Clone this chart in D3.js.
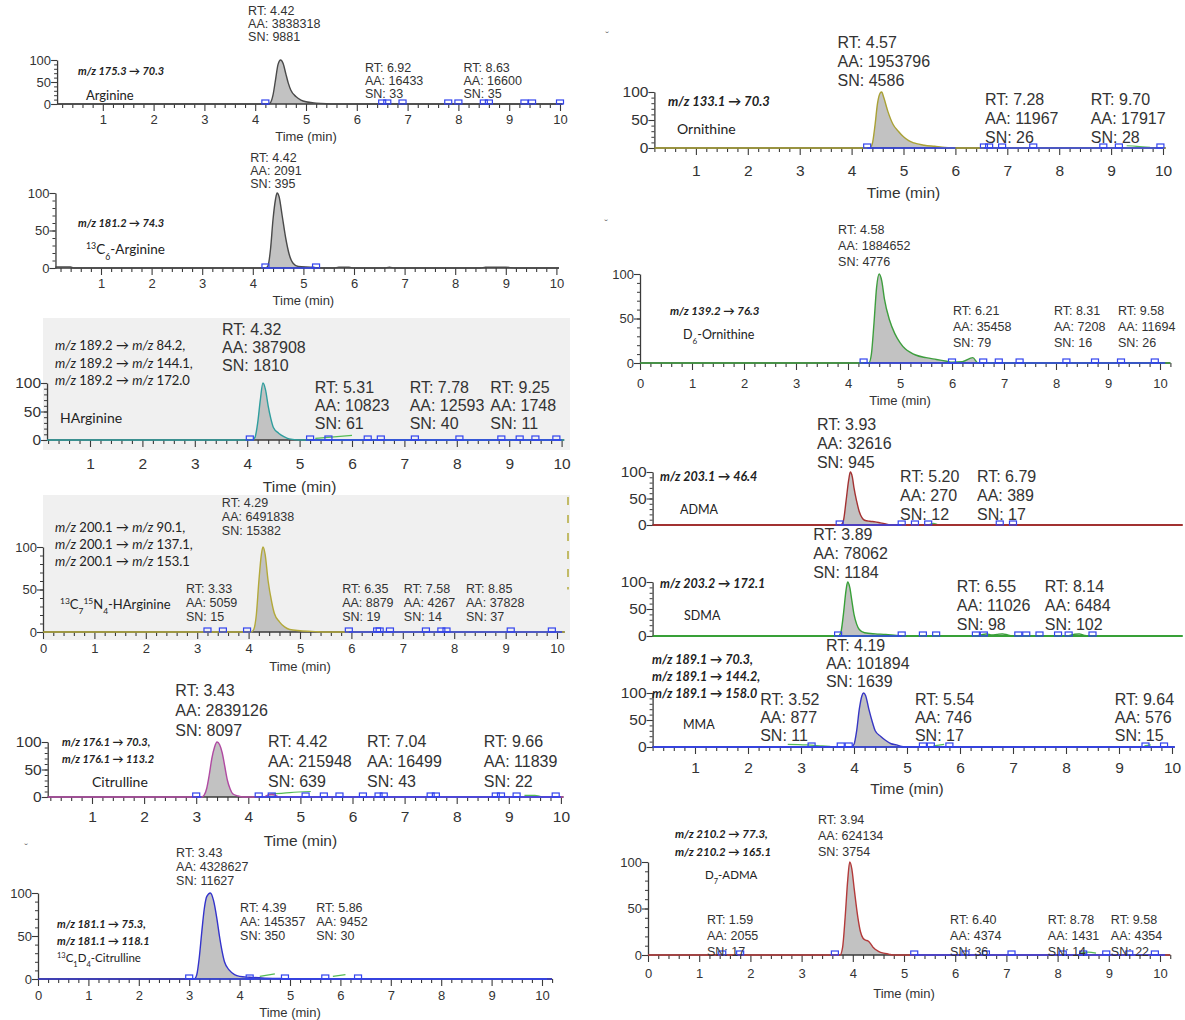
<!DOCTYPE html>
<html><head><meta charset="utf-8">
<script src="https://cdn.jsdelivr.net/npm/d3@7"></script>
<style>body{margin:0;background:#fff}svg{display:block}</style>
</head><body>
<svg id="c" width="1185" height="1020"></svg>
<script>
// ================= DATA =================
const names = [
  [["Arginine"]],
  [["13","sup"],["C"],["6","sub"],["-Arginine"]],
  [["HArginine"]],
  [["13","sup"],["C"],["7","sub"],["15","sup"],["N"],["4","sub"],["-HArginine"]],
  [["Citrulline"]],
  [["13","sup"],["C"],["1","sub"],["D"],["4","sub"],["-Citrulline"]],
  [["Ornithine"]],
  [["D"],["6","sub"],["-Ornithine"]],
  [["ADMA"]],
  [["SDMA"]],
  [["MMA"]],
  [["D"],["7","sub"],["-ADMA"]]
];
const transitions = [
  ["m/z 175.3 → 70.3"],
  ["m/z 181.2 → 74.3"],
  ["m/z 189.2 → m/z 84.2,","m/z 189.2 → m/z 144.1,","m/z 189.2 → m/z 172.0"],
  ["m/z 200.1 → m/z 90.1,","m/z 200.1 → m/z 137.1,","m/z 200.1 → m/z 153.1"],
  ["m/z 176.1 → 70.3,","m/z 176.1 → 113.2"],
  ["m/z 181.1 → 75.3,","m/z 181.1 → 118.1"],
  ["m/z 133.1 → 70.3"],
  ["m/z 139.2 → 76.3"],
  ["m/z 203.1 → 46.4"],
  ["m/z 203.2 → 172.1"],
  ["m/z 189.1 → 70.3,","m/z 189.1 → 144.2,","m/z 189.1 → 158.0"],
  ["m/z 210.2 → 77.3,","m/z 210.2 → 165.1"]
];
// peak annotations: [RT, AA, SN]
const peaks = [
  [["4.42","3838318","9881"],["6.92","16433","33"],["8.63","16600","35"]],
  [["4.42","2091","395"]],
  [["4.32","387908","1810"],["5.31","10823","61"],["7.78","12593","40"],["9.25","1748","11"]],
  [["4.29","6491838","15382"],["3.33","5059","15"],["6.35","8879","19"],["7.58","4267","14"],["8.85","37828","37"]],
  [["3.43","2839126","8097"],["4.42","215948","639"],["7.04","16499","43"],["9.66","11839","22"]],
  [["3.43","4328627","11627"],["4.39","145357","350"],["5.86","9452","30"]],
  [["4.57","1953796","4586"],["7.28","11967","26"],["9.70","17917","28"]],
  [["4.58","1884652","4776"],["6.21","35458","79"],["8.31","7208","16"],["9.58","11694","26"]],
  [["3.93","32616","945"],["5.20","270","12"],["6.79","389","17"]],
  [["3.89","78062","1184"],["6.55","11026","98"],["8.14","6484","102"]],
  [["4.19","101894","1639"],["3.52","877","11"],["5.54","746","17"],["9.64","576","15"]],
  [["3.94","624134","3754"],["1.59","2055","17"],["6.40","4374","36"],["8.78","1431","14"],["9.58","4354","22"]]
];
// chromatogram traces: [time (min), relative abundance (%)]
const traces = [
  [[0.1,0],[4.25,0],[4.3,3],[4.35,20],[4.4,55],[4.45,90],[4.5,100],[4.55,92],[4.6,70],[4.65,48],[4.7,32],[4.8,17],[4.9,9],[5.0,5],[5.2,2],[5.4,0.5],[5.6,0],[10.05,0]],
  [[0.1,1.5],[0.4,1.5],[0.45,0],[4.25,0],[4.3,3],[4.35,25],[4.4,65],[4.45,92],[4.48,100],[4.52,95],[4.58,70],[4.65,40],[4.72,18],[4.8,6],[4.9,2],[5.2,1],[5.3,0],[5.6,0],[5.7,1],[5.9,1],[6.0,0],[6.6,0],[6.7,1],[6.8,0],[8.5,0],[8.6,1],[9.0,1],[9.2,0],[10.05,0]],
  [[0.18,0],[4.1,0],[4.15,5],[4.2,30],[4.25,70],[4.3,100],[4.35,88],[4.4,60],[4.45,38],[4.5,22],[4.6,12],[4.7,6],[4.8,2],[5.0,0],[10.05,0]],
  [[0,0],[4.05,0],[4.1,3],[4.15,20],[4.2,60],[4.25,92],[4.28,100],[4.32,92],[4.38,60],[4.45,35],[4.5,22],[4.6,12],[4.7,6],[4.8,3],[5.0,1.5],[5.3,0.5],[5.5,0],[10.15,0]],
  [[0.15,0],[3.1,0],[3.15,3],[3.2,15],[3.25,40],[3.3,70],[3.35,90],[3.4,100],[3.45,95],[3.5,80],[3.55,55],[3.6,30],[3.65,15],[3.7,6],[3.8,2],[3.9,0],[4.3,0],[4.38,4],[4.45,5],[4.52,3],[4.6,0],[10.05,0]],
  [[0,0],[3.1,0],[3.15,5],[3.2,25],[3.25,55],[3.3,82],[3.35,96],[3.42,100],[3.48,92],[3.55,70],[3.6,50],[3.65,33],[3.7,20],[3.8,10],[3.9,5],[4.0,3],[4.2,2],[4.5,1],[4.8,0.5],[5.0,0],[10.2,0]],
  [[0.2,0],[4.35,0],[4.4,8],[4.45,40],[4.5,80],[4.55,98],[4.58,100],[4.62,90],[4.7,65],[4.8,42],[4.9,30],[5.0,20],[5.1,13],[5.2,9],[5.4,5],[5.6,3],[5.8,1],[6.0,0],[10.05,0]],
  [[0,0],[4.4,0],[4.45,10],[4.5,45],[4.55,85],[4.6,100],[4.65,92],[4.7,72],[4.8,48],[4.9,33],[5.0,23],[5.1,16],[5.2,12],[5.3,9],[5.5,6],[5.7,4],[5.9,2],[6.0,1],[6.2,1.5],[6.4,6],[6.5,0],[10.2,0]],
  [[0.2,0],[3.75,0],[3.8,8],[3.85,45],[3.9,85],[3.93,100],[3.97,90],[4.0,70],[4.05,45],[4.1,25],[4.15,14],[4.2,9],[4.3,7],[4.4,6],[4.5,4],[4.6,2],[4.7,0],[10.2,0]],
  [[0.2,0],[3.7,0],[3.75,6],[3.8,40],[3.85,85],[3.88,100],[3.92,90],[3.96,65],[4.0,40],[4.05,22],[4.1,12],[4.2,6],[4.4,4],[4.6,3],[4.8,1],[5.0,0],[6.3,0],[6.4,2],[6.5,4],[6.6,2],[6.7,3],[6.8,4],[6.9,2],[7.0,0],[8.0,0],[8.15,3],[8.25,4],[8.35,1],[8.5,0],[10.2,0]],
  [[0.2,0],[3.95,0],[4.0,5],[4.05,30],[4.1,70],[4.15,95],[4.18,100],[4.22,95],[4.28,70],[4.35,45],[4.4,30],[4.5,20],[4.6,12],[4.7,6],[4.8,4],[4.9,1],[5.0,0],[10.05,0]],
  [[0,0],[3.75,0],[3.8,8],[3.85,40],[3.9,80],[3.94,100],[3.98,93],[4.03,70],[4.1,40],[4.15,25],[4.2,18],[4.25,16],[4.3,15],[4.35,12],[4.4,8],[4.5,4],[4.6,2],[4.7,1],[4.8,0],[10.2,0]]
];
// peak boundary markers (time, min)
const markers = [
  [4.2,6.5,6.6,6.9,7.8,8.0,8.5,8.6,9.3,9.45,10.0],
  [4.25,5.25],
  [4.05,5.2,5.55,6.3,6.55,7.2,8.05,8.85,9.2,9.5,9.9],
  [3.2,3.5,3.97,5.95,6.5,6.55,6.75,7.45,7.75,7.85,9.1,9.9],
  [3.0,4.2,4.45,5.1,5.45,5.75,6.2,6.5,6.6,7.5,7.6,8.75,8.85,9.15,9.9],
  [3.0,4.2,4.9,5.7,6.35],
  [4.3,6.55,6.65,6.9,7.5,8.85,9.15,9.95],
  [4.3,6.0,6.6,6.9,7.3,8.2,8.75,9.25,9.9],
  [3.73,4.9,5.15,5.4,6.75,7.0],
  [3.7,4.9,5.3,5.55,6.3,6.45,7.1,7.25,7.5,7.85,8.05,8.5],
  [3.2,3.75,3.9,5.3,5.45,5.8,9.5,9.85],
  [1.45,1.8,3.65,5.2,6.2,6.6,7.1,8.1,8.5,8.95,9.4,9.9]
];
// blue integration baselines [from, to] (min)
const baselines = [
  [[4.2,4.25]],
  [[4.25,5.25]],
  [[5.2,10.0]],
  [[5.95,10.1]],
  [[3.0,3.1],[4.2,10.0]],
  [[3.0,10.1]],
  [[4.3,6.0],[6.55,10.0]],
  [[4.3,10.1]],
  [[3.73,4.9]],
  [[3.7,4.9]],
  [[0.2,10.05]],
  [[5.2,10.1]]
];
// secondary (green) noise traces
const noise = [
  [],
  [],
  [[[5.3,3],[5.6,5],[6.0,8]]],
  [],
  [[[4.4,5],[4.8,8],[5.2,10]],[[9.3,3],[9.5,3],[9.65,0]]],
  [[[4.4,3],[4.7,6]],[[5.85,3],[6.1,5]]],
  [[[9.3,4],[9.5,3],[9.75,1]]],
  [],
  [[[5.4,0],[5.5,3],[5.6,0]]],
  [],
  [[[2.75,5],[3.1,4],[3.4,2],[3.55,1]],[[5.5,2],[5.7,5]],[[9.48,2],[9.6,4]]],
  [[[8.45,2],[8.6,3],[8.75,2]]]
];
const yTickLabels = ["0","50","100"];
const caretMarks = ["ˇ","ˇ","ˇ"];

// ================= LAYOUT =================
const traceColors = ["#4a4a4a","#4a4a4a","#2f9e9e","#b3a93a","#b04aa2","#3333cc","#a9a135","#3e9e3e","#a33232","#38a038","#3636c4","#b33a3a"];
const L = [
  {x0:52,  xs:50.8, tmin:0.1,  tmax:10.05, y100:60,  yz:104, big:false, tickY:124, timeY:141, mz:[78,75],   mzLh:17, mzFs:11, mzStyle:"all", name:[86,100], nfs:13, lab:[[3.86,15],[6.16,72],[8.1,72]], lh:13},
  {x0:50.4,xs:50.6, tmin:0.1,  tmax:10.05, y100:193, yz:268, big:false, tickY:288, timeY:305, mz:[78,227],  mzLh:17, mzFs:11, mzStyle:"all", name:[86,254], nfs:13.5, lab:[[3.95,162]], lh:13},
  {x0:37.6,xs:52.4, tmin:0.18, tmax:10.05, y100:383, yz:440, big:true,  tickY:469, timeY:492, mz:[55,350],  mzLh:17.5, mzFs:13, mzStyle:"mz", name:[60,423], nfs:14, lab:[[3.52,335],[5.29,393],[7.1,393],[8.64,393]], lh:18, bg:[43,318,570,450]},
  {x0:43,  xs:51.4, tmin:0,    tmax:10.15, y100:547, yz:632, big:false, tickY:653, timeY:671, mz:[55,532],  mzLh:17, mzFs:13, mzStyle:"mz", name:[60,609], nfs:13, lab:[[3.48,507],[2.78,593],[5.82,593],[7.02,593],[8.23,593]], lh:14, bg:[43,495,570,640], dash:true},
  {x0:39.9,xs:52.1, tmin:0.15, tmax:10.05, y100:742, yz:797, big:true,  tickY:822, timeY:846, mz:[62,746],  mzLh:17, mzFs:11, mzStyle:"all", name:[92,787], nfs:14, lab:[[2.6,696],[4.38,747],[6.28,747],[8.52,747]], lh:20},
  {x0:38,  xs:50.4, tmin:0,    tmax:10.2,  y100:893, yz:979, big:false, tickY:1000,timeY:1017,mz:[57,928],  mzLh:17, mzFs:11, mzStyle:"all", name:[57,962], nfs:11.5, lab:[[2.74,857],[4.01,912],[5.52,912]], lh:14},
  {x0:644, xs:51.9, tmin:0.2,  tmax:10.05, y100:92,  yz:148, big:true,  tickY:176, timeY:198, mz:[668,106], mzLh:17, mzFs:13, mzStyle:"all", name:[677,134], nfs:14, lab:[[3.73,48],[6.57,105],[8.61,105]], lh:19},
  {x0:640, xs:52,   tmin:0,    tmax:10.2,  y100:274, yz:363, big:false, tickY:388, timeY:405, mz:[670,315], mzLh:17, mzFs:11.5, mzStyle:"all", name:[683,339], nfs:12.5, lab:[[3.81,234],[6.02,315],[7.96,315],[9.19,315]], lh:16},
  {x0:642, xs:53,   tmin:0.2,  tmax:10.2,  y100:472, yz:525, big:true,  noX:true, mz:[660,481], mzLh:17, mzFs:12.5, mzStyle:"all", name:[680,514], nfs:12.5, lab:[[3.3,430],[4.87,482],[6.32,482]], lh:19},
  {x0:642, xs:53,   tmin:0.2,  tmax:10.2,  y100:582, yz:636, big:true,  noX:true, mz:[660,588], mzLh:17, mzFs:12.5, mzStyle:"all", name:[684,620], nfs:12.5, lab:[[3.23,540],[5.94,592],[7.6,592]], lh:19},
  {x0:642, xs:53,   tmin:0.2,  tmax:10.05, y100:693, yz:747, big:true,  tickY:773, timeY:794, mz:[652,664], mzLh:17, mzFs:12.5, mzStyle:"all", name:[683,729], nfs:12.5, lab:[[3.47,651],[2.23,705],[5.15,705],[8.92,705]], lh:18},
  {x0:648, xs:51.2, tmin:0,    tmax:10.2,  y100:862, yz:955, big:false, tickY:978, timeY:998, mz:[675,838], mzLh:18, mzFs:11.5, mzStyle:"all", name:[705,879], nfs:11.5, lab:[[3.32,824],[1.15,924],[5.9,924],[7.81,924],[9.04,924]], lh:16}
];
const caretPos = [[607,40],[606,228],[26,852]];

const svg = d3.select("#c");
const ARIAL = "'Liberation Sans', Arial, sans-serif";
const CAL = "Lato, 'Open Sans', sans-serif";
const AXC = "#3a3a3a";

// background layer first so no panel covers another's text
const bgLayer = svg.append("g");
L.forEach(p => {
  if (p.bg) {
    bgLayer.append("rect").attr("x", p.bg[0]).attr("y", p.bg[1]).attr("width", p.bg[2]-p.bg[0]).attr("height", p.bg[3]-p.bg[1]).attr("fill", "#f0f0f0");
  }
});
caretMarks.forEach((c, k) => {
  svg.append("text").attr("x", caretPos[k][0]).attr("y", caretPos[k][1]).attr("font-family", ARIAL)
    .attr("font-size", 11).attr("fill", "#666").attr("text-anchor", "middle").text(c);
});

L.forEach((p, i) => {
  const g = svg.append("g");
  const x = d3.scaleLinear().domain([0, 1]).range([p.x0, p.x0 + p.xs]);
  const y = d3.scaleLinear().domain([0, 100]).range([p.yz, p.y100]);
  const fs = p.big ? 16 : 12.5;
  const tfs = p.big ? 15.5 : 13;

  if (p.dash) {
    g.append("line").attr("x1", p.bg[2]-2).attr("x2", p.bg[2]-2).attr("y1", p.bg[1]+2).attr("y2", y(50)).attr("stroke", "#b3a93a").attr("stroke-width", 1.5).attr("stroke-dasharray", "8,10");
  }

  // peak fill
  const tr = traces[i];
  const area = d3.area().x(d => x(d[0])).y0(y(0)).y1(d => y(d[1])).curve(d3.curveMonotoneX);
  const line = d3.line().x(d => x(d[0])).y(d => y(d[1])).curve(d3.curveMonotoneX);
  g.append("path").datum(tr).attr("d", area).attr("fill", "#c2c2c2");

  // noise traces
  noise[i].forEach(n => {
    g.append("path").datum(n).attr("d", line).attr("fill", "none").attr("stroke", "#55bb55").attr("stroke-width", 1.2);
  });

  // x axis
  if (!p.noX) {
    const minor = d3.range(Math.ceil(p.tmin * 5) / 5, p.tmax + 0.001, 0.2).filter(v => Math.abs(v - Math.round(v)) > 0.01);
    const major = d3.range(Math.ceil(p.tmin), Math.floor(p.tmax) + 1);
    const ax = g.append("g").attr("transform", `translate(0,${p.yz})`);
    ax.append("line").attr("x1", x(p.tmin)).attr("x2", x(p.tmax)).attr("stroke", AXC).attr("stroke-width", 1.3);
    ax.append("g").call(d3.axisBottom(x).tickValues(minor).tickSize(4).tickFormat("").tickSizeOuter(0))
      .call(s => s.select(".domain").remove()).selectAll("line").attr("stroke", AXC).attr("stroke-width", 1.1);
    const mj = ax.append("g").call(d3.axisBottom(x).tickValues(major).tickSize(7).tickFormat(d3.format("d")).tickSizeOuter(0))
      .call(s => s.select(".domain").remove());
    mj.selectAll("line").attr("stroke", AXC).attr("stroke-width", 1.1);
    mj.selectAll("text").attr("y", p.tickY - p.yz).attr("dy", 0).attr("font-family", ARIAL).attr("font-size", tfs).attr("fill", "#333");
    g.append("text").attr("x", x(5)).attr("y", p.timeY).attr("text-anchor", "middle")
      .attr("font-family", ARIAL).attr("font-size", p.big ? 15.5 : 13).attr("fill", "#333").text("Time (min)");
  } else {
    g.append("line").attr("x1", x(p.tmin)).attr("x2", x(p.tmax)).attr("y1", p.yz).attr("y2", p.yz).attr("stroke", traceColors[i]).attr("stroke-width", 2);
  }

  // y axis
  const ya = g.append("g").attr("transform", `translate(${x(p.tmin)},0)`);
  ya.append("g").call(d3.axisLeft(y).tickValues(d3.range(0, 101, 10)).tickSize(3).tickFormat("").tickSizeOuter(0))
    .call(s => s.select(".domain").attr("stroke", AXC).attr("stroke-width", 1.3))
    .selectAll("line").attr("stroke", AXC);
  const ym = ya.append("g").call(d3.axisLeft(y).tickValues(yTickLabels.map(Number)).tickSize(6).tickFormat((d, k) => yTickLabels[k]).tickSizeOuter(0))
    .call(s => s.select(".domain").remove());
  ym.selectAll("line").attr("stroke", AXC).attr("stroke-width", 1.1);
  ym.selectAll("text").attr("font-family", ARIAL).attr("font-size", p.big ? 15.5 : 13).attr("fill", "#333").attr("x", -6);

  // trace line
  g.append("path").datum(tr).attr("d", line).attr("fill", "none").attr("stroke", traceColors[i]).attr("stroke-width", 1.4);

  // blue baselines
  baselines[i].forEach(b => {
    g.append("line").attr("x1", x(b[0])).attr("x2", x(b[1])).attr("y1", y(0)).attr("y2", y(0)).attr("stroke", "#3344ee").attr("stroke-width", 1.3);
  });
  // markers
  g.selectAll("rect.mk").data(markers[i]).join("rect").attr("class", "mk")
    .attr("x", d => x(d) - 3.5).attr("y", y(0) - 4).attr("width", 7).attr("height", 4)
    .attr("fill", "none").attr("stroke", "#3344ee").attr("stroke-width", 1.2);

  // peak labels
  peaks[i].forEach((pk, k) => {
    const lp = p.lab[k];
    const t = g.append("text").attr("font-family", ARIAL).attr("font-size", fs).attr("fill", "#333");
    ["RT: " + pk[0], "AA: " + pk[1], "SN: " + pk[2]].forEach((s, j) => {
      t.append("tspan").attr("x", x(lp[0])).attr("y", lp[1] + j * p.lh).text(s);
    });
  });

  // transitions
  transitions[i].forEach((s, j) => {
    const t = g.append("text").attr("x", p.mz[0]).attr("y", p.mz[1] + j * p.mzLh)
      .attr("font-family", CAL).attr("font-size", p.mzFs).attr("fill", "#222");
    if (p.mzStyle === "all") {
      t.attr("font-style", "italic").attr("font-weight", "bold").text(s);
    } else {
      const parts = s.split("m/z");
      parts.forEach((pt, q) => {
        if (q > 0) t.append("tspan").attr("font-style", "italic").text("m/z");
        if (pt) t.append("tspan").text(pt);
      });
    }
  });

  // compound name
  const nt = g.append("text").attr("x", p.name[0]).attr("y", p.name[1]).attr("font-family", CAL).attr("font-size", p.nfs).attr("fill", "#222");
  names[i].forEach(seg => {
    const ts = nt.append("tspan").text(seg[0]);
    if (seg[1] === "sup") ts.attr("font-size", p.nfs * 0.65).attr("baseline-shift", "super");
    else if (seg[1] === "sub") ts.attr("font-size", p.nfs * 0.65).attr("baseline-shift", "sub");
  });
});
</script>
</body></html>
